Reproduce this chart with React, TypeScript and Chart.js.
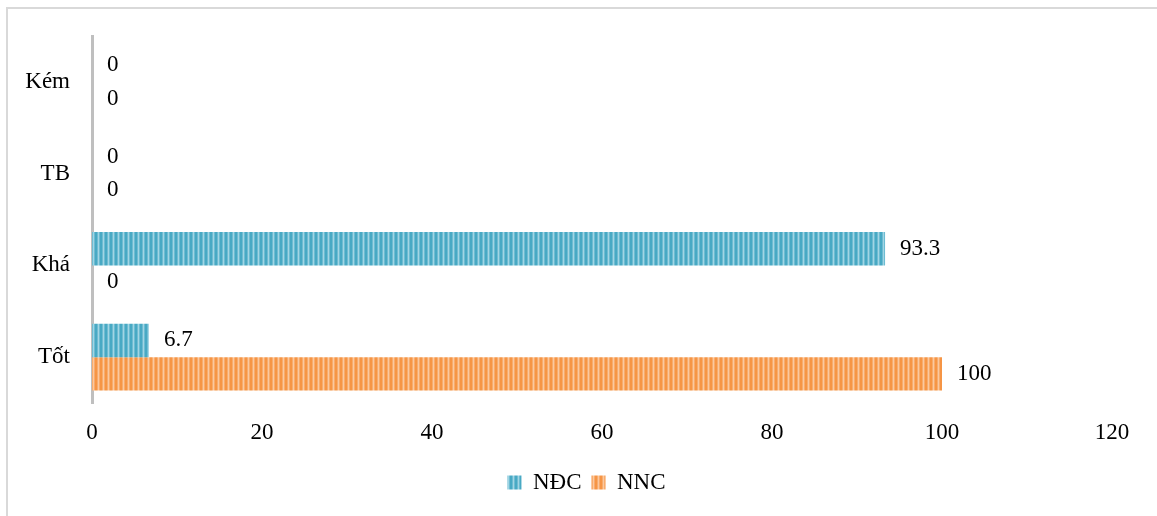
import React, { useEffect, useRef } from "react";
import { Chart, registerables } from "chart.js";

Chart.register(...registerables);

// Rating categories, listed top to bottom on the vertical axis
const categories = ["Kém", "TB", "Khá", "Tốt"];
// Percentages per group
const ndcValues = [0, 0, 93.3, 6.7];
const nncValues = [0, 0, 0, 100];
const seriesNames = ["NĐC", "NNC"];
const xTicks = [0, 20, 40, 60, 80, 100, 120];

const FONT = "'Liberation Serif', 'Times New Roman', serif";

// Vertical stripe fill used by the bars
function stripePattern(colors: string[]): CanvasPattern | string {
  const c = document.createElement("canvas");
  c.width = colors.length;
  c.height = 4;
  const ctx = c.getContext("2d");
  if (!ctx) return colors[0];
  colors.forEach((col, i) => {
    ctx.fillStyle = col;
    ctx.fillRect(i, 0, 1, 4);
  });
  return ctx.createPattern(c, "repeat") || colors[0];
}

// Writes each bar's value just past its end
const valueLabels = {
  id: "valueLabels",
  afterDatasetsDraw(chart: any) {
    const ctx = chart.ctx;
    ctx.save();
    ctx.font = `23px ${FONT}`;
    ctx.fillStyle = "#000";
    ctx.textAlign = "left";
    ctx.textBaseline = "middle";
    chart.data.datasets.forEach((ds: any, di: number) => {
      const meta = chart.getDatasetMeta(di);
      meta.data.forEach((bar: any, i: number) => {
        const v = ds.data[i];
        ctx.fillText(String(v), bar.x + 15, bar.y);
      });
    });
    ctx.restore();
  },
};

// Centres the legend row on the plot width rather than the full canvas
const legendOffset = {
  id: "legendOffset",
  afterLayout(chart: any) {
    if (chart.legend) chart.legend.left += 61;
  },
};

export default function App() {
  const canvasRef = useRef<HTMLCanvasElement | null>(null);

  useEffect(() => {
    if (!canvasRef.current) return;
    const blue = stripePattern(["#48a9c4", "#48a9c4", "#6ebcd2", "#a2d5e4", "#6ebcd2"]);
    const orange = stripePattern(["#f69545", "#f69545", "#f8ac6d", "#fbc89f", "#f8ac6d"]);

    const chart = new Chart(canvasRef.current, {
      type: "bar",
      data: {
        labels: categories,
        datasets: [
          {
            label: seriesNames[0],
            data: ndcValues,
            backgroundColor: blue as any,
            borderWidth: 0,
            categoryPercentage: 0.73,
            barPercentage: 1,
          },
          {
            label: seriesNames[1],
            data: nncValues,
            backgroundColor: orange as any,
            borderWidth: 0,
            categoryPercentage: 0.73,
            barPercentage: 1,
          },
        ],
      },
      options: {
        indexAxis: "y",
        responsive: false,
        animation: false,
        layout: { padding: { top: 36, right: 45, bottom: 12, left: 0 } },
        scales: {
          x: {
            min: xTicks[0],
            max: xTicks[xTicks.length - 1],
            afterBuildTicks(scale: any) {
              scale.ticks = xTicks.map((v) => ({ value: v }));
            },
            afterFit(scale: any) {
              scale.height = 58;
            },
            grid: { display: false, drawTicks: false },
            border: { display: false },
            ticks: {
              padding: 16,
              color: "#000",
              font: { family: FONT, size: 23 },
            },
          },
          y: {
            afterFit(scale: any) {
              scale.width = 92;
            },
            grid: { display: false, drawTicks: false },
            border: { display: true, color: "#bfbfbf", width: 3 },
            ticks: {
              padding: 22,
              color: "#000",
              font: { family: FONT, size: 23 },
            },
          },
        },
        plugins: {
          legend: {
            position: "bottom",
            labels: {
              boxWidth: 14,
              boxHeight: 14,
              padding: 10,
              color: "#000",
              font: { family: FONT, size: 23 },
            },
          },
          tooltip: { enabled: false },
        },
      },
      plugins: [valueLabels, legendOffset],
    });
    return () => chart.destroy();
  }, []);

  return (
    <div
      style={{
        position: "fixed",
        left: 0,
        top: 0,
        width: 1157,
        height: 516,
        background: "#fff",
        overflow: "hidden",
      }}
    >
      <div
        style={{
          position: "absolute",
          left: 6,
          top: 7,
          width: 1151,
          height: 509,
          borderTop: "2px solid #d9d9d9",
          borderLeft: "2px solid #d9d9d9",
          boxSizing: "border-box",
        }}
      />
      <canvas
        ref={canvasRef}
        width={1157}
        height={516}
        style={{ position: "absolute", left: 0, top: 0 }}
      />
    </div>
  );
}
